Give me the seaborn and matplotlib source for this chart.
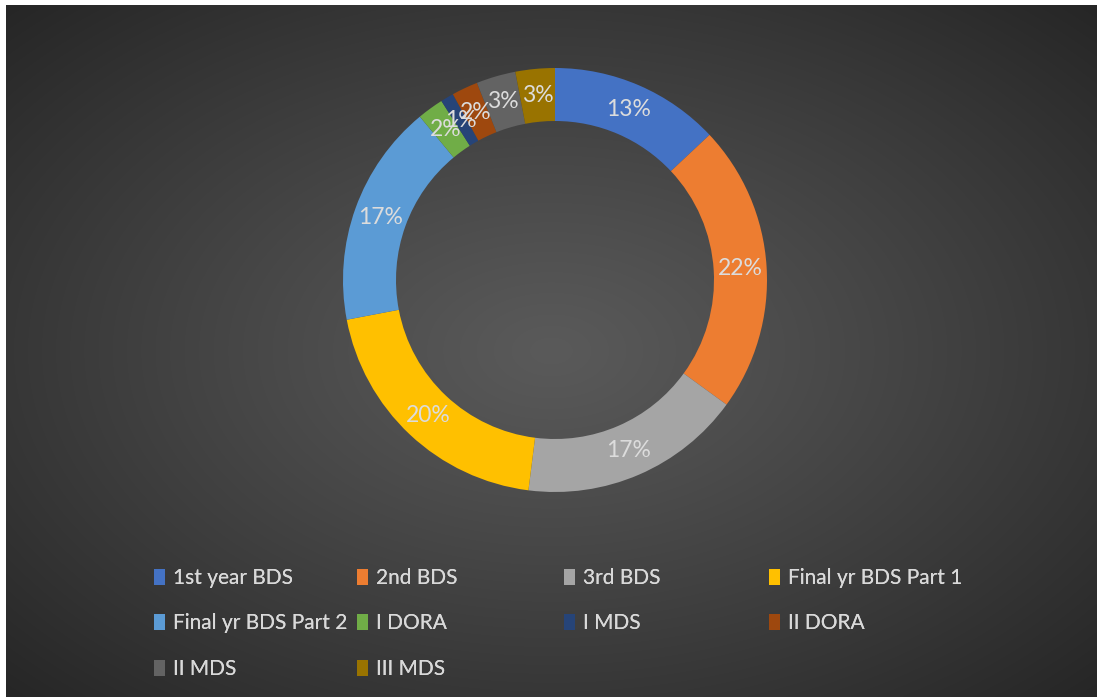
import numpy as np
import pandas as pd
import matplotlib.pyplot as plt
import seaborn as sns
from matplotlib.patches import Patch

# data
categories = ["1st year BDS", "2nd BDS", "3rd BDS", "Final yr BDS Part 1",
              "Final yr BDS Part 2", "I DORA", "I MDS", "II DORA", "II MDS", "III MDS"]
percent = [13, 22, 17, 20, 17, 2, 1, 2, 3, 3]
colors = ["#4472C4", "#ED7D31", "#A5A5A5", "#FFC000", "#5B9BD5",
          "#70AD47", "#264478", "#9E480E", "#636363", "#997300"]

df = pd.DataFrame({"group": categories, "pct": percent})

sns.set_theme(style="dark")
plt.rcParams["font.family"] = ["Lato", "DejaVu Sans"]

W, H = 1097, 697
fig = plt.figure(figsize=(W / 100, H / 100), dpi=100)
fig.patch.set_facecolor("white")

# radial gradient background (dark chart area, white strip top/left)
bg = fig.add_axes([6 / W, 0, (W - 6) / W, (H - 5) / H])
yy, xx = np.mgrid[0:1:400j, 0:1:600j]
d = np.sqrt(((xx - 0.5) / 0.5) ** 2 + ((yy - 0.5) / 0.5) ** 2) / np.sqrt(2)
shade = 0x5a / 255 - (0x5a - 0x26) / 255 * np.clip(d, 0, 1) ** 1.1
bg.imshow(np.dstack([shade] * 3), aspect="auto", extent=[0, 1, 0, 1], interpolation="bilinear")
bg.set_axis_off()

# donut
cx, cy, r = 555, 280, 212
ax = fig.add_axes([(cx - r) / W, 1 - (cy + r) / H, 2 * r / W, 2 * r / H])
wedges, _, autotexts = ax.pie(
    df["pct"], colors=colors, startangle=90, counterclock=False, radius=1,
    wedgeprops=dict(width=0.25, linewidth=0),
    autopct=lambda p: f"{p:.0f}%", pctdistance=0.875,
    textprops=dict(color="#dcdcdc", fontsize=16.5))
ax.set_xlim(-1, 1)
ax.set_ylim(-1, 1)
ax.set_aspect("equal")
ax.set_axis_off()

# legend, laid out in an even 4-column grid (row-major)
col_x = [154, 357, 564, 769]
row_y = [578, 622, 666]
ncol = 4
for c in range(ncol):
    idx = list(range(c, len(categories), ncol))
    handles = [Patch(facecolor=colors[i], edgecolor="none") for i in idx]
    labels = [categories[i] for i in idx]
    leg = fig.legend(handles, labels, loc="upper left",
                     bbox_to_anchor=(col_x[c] / W, 1 - (row_y[0] - 10) / H),
                     frameon=False, fontsize=15, labelcolor="#d9d9d9",
                     handlelength=0.55, handleheight=0.8, handletextpad=0.35,
                     labelspacing=1.22, borderaxespad=0, borderpad=0)
    fig.add_artist(leg)

fig.savefig("out.png", dpi=100, facecolor=fig.get_facecolor())
